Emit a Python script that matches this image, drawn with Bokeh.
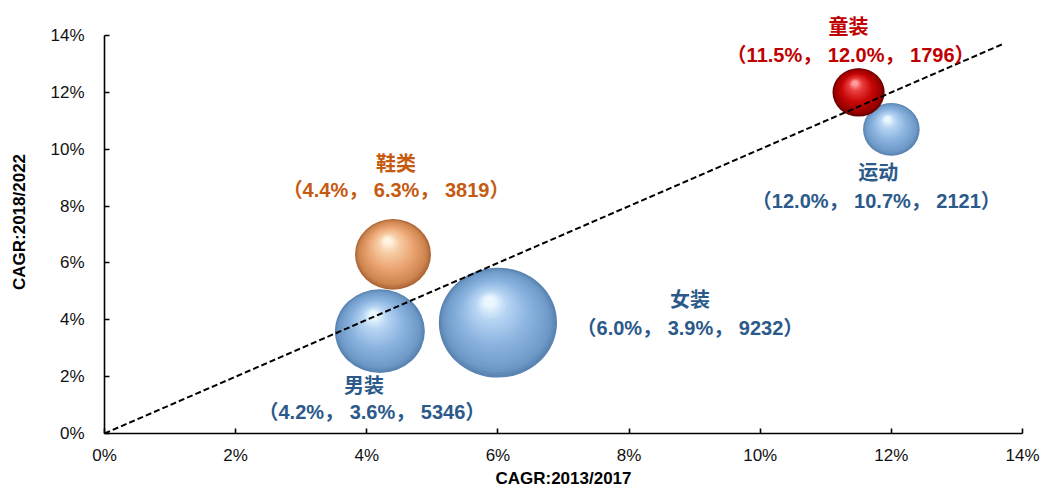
import numpy as np
from bokeh.plotting import figure
from bokeh.models import ColumnDataSource, FixedTicker, PrintfTickFormatter, Range1d, LabelSet
from bokeh.core.properties import value
from bokeh.embed import file_html
from bokeh.resources import INLINE

# ---------------- data ----------------
categories = ["女装", "男装", "鞋类", "童装", "运动"]
cagr_2013_2017 = [6.0, 4.2, 4.4, 11.5, 12.0]      # x, %
cagr_2018_2022 = [3.9, 3.6, 6.3, 12.0, 10.7]      # y, %
market_size = [9232, 5346, 3819, 1796, 2121]      # bubble size
axis_ticks = [0, 2, 4, 6, 8, 10, 12, 14]
diag_x = [0, 13.7]
diag_y = [0, 13.7]

# ---------------- style ----------------
bubble_style = ["blue", "blue", "orange", "red", "blue"]
label_colors = ["#2b5a8a", "#2b5a8a", "#c55a11", "#c00000", "#2b5a8a"]
# label offsets in screen px relative to the bubble centre (down positive)
name_dx = [192, -16, 3, -10, -13]
name_dy = [-23, 55, -90, -65, 44]
val_dx = [192, -8, 3, -8, -15]
val_dy = [5, 81, -64, -37, 72]

palettes = {
    "blue": [(0.0, "#5a84b2"), (0.10, "#6e9ac8"), (0.45, "#8cb4e0"), (0.8, "#b8d6f3"), (1.0, "#eaf7ff")],
    "red": [(0.0, "#6a0000"), (0.10, "#990000"), (0.45, "#c80808"), (0.8, "#ea4040"), (1.0, "#ff9c9c")],
    "orange": [(0.0, "#ad6838"), (0.10, "#cd844e"), (0.45, "#eca675"), (0.8, "#f7cfa8"), (1.0, "#fff3e4")],
}

W, H = 1045, 491
BL, BR, BT, BB = 104, 23, 10, 58
FW = W - BL - BR
PX_PER_UNIT_Y = 398 / 14.0
X0, X1, Y0 = 0, 14, 0
Y1 = 14 + 25 / PX_PER_UNIT_Y        # headroom above the 14% tick for the top label
FH = H - BT - BB
PX_X = FW / (X1 - X0)
PX_Y = FH / (Y1 - Y0)

FONT = "Liberation Sans, Noto Sans CJK SC"


def hex2rgb(h):
    return np.array([int(h[i:i + 2], 16) for i in (1, 3, 5)], float)


def ramp(stops, t):
    for (p0, c0), (p1, c1) in zip(stops[:-1], stops[1:]):
        if p0 <= t <= p1:
            f = (t - p0) / (p1 - p0)
            c = hex2rgb(c0) * (1 - f) + hex2rgb(c1) * f
            return "#%02x%02x%02x" % tuple(int(round(v)) for v in c)
    return stops[-1][1]


# build shaded sphere layers
N = 26
lx, ly, lw, lh, lc = [], [], [], [], []
order = [0, 1, 2, 4, 3]
for i in order:
    rw = 0.615 * np.sqrt(market_size[i])
    rh = rw * 0.93
    hx, hy = -0.14 * rw, 0.38 * rh  # highlight position (px, up positive)
    for k in range(N):
        t = k / (N - 1)
        lx.append(cagr_2013_2017[i] + t * hx / PX_X)
        ly.append(cagr_2018_2022[i] + t * hy / PX_Y)
        lw.append(2 * rw * (1 - 0.9 * t))
        lh.append(2 * rh * (1 - 0.9 * t))
        lc.append(ramp(palettes[bubble_style[i]], t))

layers = ColumnDataSource(dict(x=lx, y=ly, w=lw, h=lh, c=lc))

p = figure(width=W, height=H, output_backend="svg", toolbar_location=None,
           x_range=Range1d(X0, X1), y_range=Range1d(Y0, Y1),
           min_border_left=BL, min_border_right=BR, min_border_top=BT, min_border_bottom=BB)
p.outline_line_color = None
p.grid.visible = False
p.background_fill_color = "white"

p.ellipse(x="x", y="y", width="w", height="h", width_units="screen", height_units="screen",
          fill_color="c", line_color=None, source=layers)

p.line(diag_x, diag_y, line_color="black", line_width=2, line_dash="6 3")

labels = ColumnDataSource(dict(
    x=cagr_2013_2017 + cagr_2013_2017,
    y=cagr_2018_2022 + cagr_2018_2022,
    text=categories + ["（%.1f%%， %.1f%%， %d）" % (a, b, s)
                       for a, b, s in zip(cagr_2013_2017, cagr_2018_2022, market_size)],
    dx=name_dx + val_dx,
    dy=[-d for d in name_dy + val_dy],
    color=label_colors + label_colors,
))
p.add_layout(LabelSet(x="x", y="y", text="text", x_offset="dx", y_offset="dy", source=labels,
                      text_color="color", text_font=value(FONT), text_font_style="bold",
                      text_font_size="20px", text_align="center", text_baseline="middle"))

for ax in (p.xaxis[0], p.yaxis[0]):
    ax.ticker = FixedTicker(ticks=axis_ticks)
    ax.formatter = PrintfTickFormatter(format="%d%%")
    ax.minor_tick_line_color = None
    ax.axis_line_color = "black"
    ax.axis_line_width = 1.6
    ax.major_tick_line_color = "black"
    ax.major_tick_line_width = 1.6
    ax.major_tick_in = 5
    ax.major_tick_out = 0
    ax.major_label_text_font = FONT
    ax.major_label_text_font_size = "17px"
    ax.major_label_text_color = "#111111"
    ax.axis_label_text_font = FONT
    ax.axis_label_text_font_style = "bold"
    ax.axis_label_text_font_size = "17px"
    ax.axis_label_text_color = "black"

p.yaxis.bounds = (0, 14)
p.xaxis.axis_label = "CAGR:2013/2017"
p.yaxis.axis_label = "CAGR:2018/2022"
p.xaxis.major_label_standoff = 12
p.xaxis.axis_label_standoff = 1
p.yaxis.major_label_standoff = 20
p.yaxis.axis_label_standoff = 18

open("out.html", "w").write(file_html(p, INLINE))
